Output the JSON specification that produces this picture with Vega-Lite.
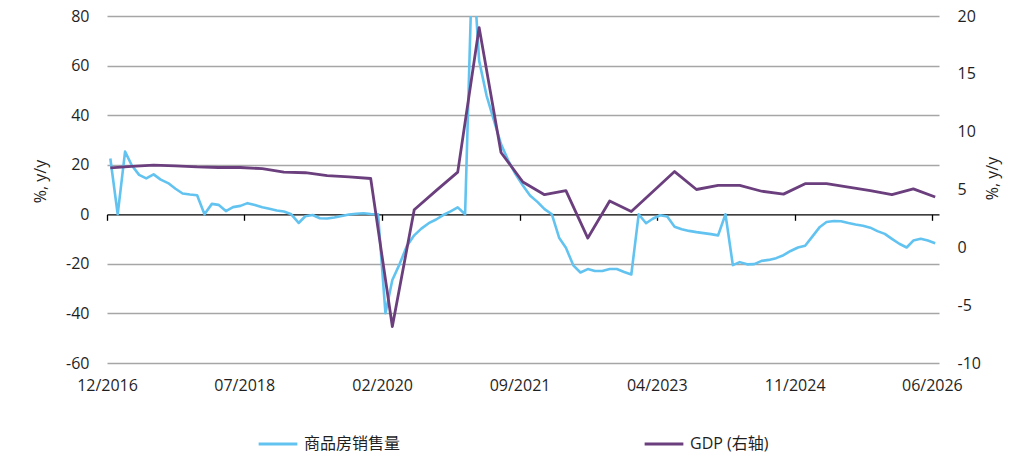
{
  "$schema": "https://vega.github.io/schema/vega-lite/v6.json",
  "width": 832,
  "height": 347,
  "autosize": {"type": "none"},
  "padding": {"left": 107, "top": 16, "right": 83, "bottom": 109},
  "background": "white",
  "config": {
    "view": {"stroke": null},
    "font": "Open Sans, Noto Sans CJK SC, sans-serif",
    "axis": {
      "labelFont": "Open Sans, Noto Sans CJK SC, sans-serif",
      "labelFontSize": 16,
      "labelColor": "#1f1f1f",
      "titleFont": "Open Sans, Noto Sans CJK SC, sans-serif",
      "titleFontSize": 16,
      "titleFontWeight": "normal",
      "titleColor": "#1f1f1f"
    },
    "legend": {
      "labelFont": "Open Sans, Noto Sans CJK SC, sans-serif",
      "labelFontSize": 16,
      "labelColor": "#1f1f1f"
    }
  },
  "datasets": {
    "sales": [
      {"date": "2016-12-15", "value": 22.5},
      {"date": "2017-01-15", "value": 0},
      {"date": "2017-02-15", "value": 25.3},
      {"date": "2017-03-15", "value": 19.8},
      {"date": "2017-04-15", "value": 15.9},
      {"date": "2017-05-15", "value": 14.5},
      {"date": "2017-06-15", "value": 16.1},
      {"date": "2017-07-15", "value": 14.0},
      {"date": "2017-08-15", "value": 12.6},
      {"date": "2017-09-15", "value": 10.3},
      {"date": "2017-10-15", "value": 8.4},
      {"date": "2017-11-15", "value": 8.0},
      {"date": "2017-12-15", "value": 7.7},
      {"date": "2018-01-15", "value": 0},
      {"date": "2018-02-15", "value": 4.2},
      {"date": "2018-03-15", "value": 3.8},
      {"date": "2018-04-15", "value": 1.3},
      {"date": "2018-05-15", "value": 2.9},
      {"date": "2018-06-15", "value": 3.4},
      {"date": "2018-07-15", "value": 4.5},
      {"date": "2018-08-15", "value": 3.7},
      {"date": "2018-09-15", "value": 2.8},
      {"date": "2018-10-15", "value": 2.2},
      {"date": "2018-11-15", "value": 1.5},
      {"date": "2018-12-15", "value": 1.1},
      {"date": "2019-01-15", "value": 0},
      {"date": "2019-02-15", "value": -3.5},
      {"date": "2019-03-15", "value": -0.8},
      {"date": "2019-04-15", "value": -0.3},
      {"date": "2019-05-15", "value": -1.6},
      {"date": "2019-06-15", "value": -1.7},
      {"date": "2019-07-15", "value": -1.3},
      {"date": "2019-08-15", "value": -0.7},
      {"date": "2019-09-15", "value": -0.1},
      {"date": "2019-10-15", "value": 0.2},
      {"date": "2019-11-15", "value": 0.4},
      {"date": "2019-12-15", "value": 0.1},
      {"date": "2020-01-15", "value": 0},
      {"date": "2020-02-15", "value": -39.9},
      {"date": "2020-03-15", "value": -26.5},
      {"date": "2020-04-15", "value": -20.0},
      {"date": "2020-05-15", "value": -12.8},
      {"date": "2020-06-15", "value": -8.5},
      {"date": "2020-07-15", "value": -5.8},
      {"date": "2020-08-15", "value": -3.6},
      {"date": "2020-09-15", "value": -2.1},
      {"date": "2020-10-15", "value": -0.3},
      {"date": "2020-11-15", "value": 1.2},
      {"date": "2020-12-15", "value": 2.8},
      {"date": "2021-01-15", "value": 0},
      {"date": "2021-02-15", "value": 105},
      {"date": "2021-03-15", "value": 62},
      {"date": "2021-04-15", "value": 48},
      {"date": "2021-05-15", "value": 38.3},
      {"date": "2021-06-15", "value": 28.3},
      {"date": "2021-07-15", "value": 21.8},
      {"date": "2021-08-15", "value": 16.2},
      {"date": "2021-09-15", "value": 11.6},
      {"date": "2021-10-15", "value": 7.6},
      {"date": "2021-11-15", "value": 5.0},
      {"date": "2021-12-15", "value": 2.1},
      {"date": "2022-01-15", "value": 0},
      {"date": "2022-02-15", "value": -9.6},
      {"date": "2022-03-15", "value": -13.5},
      {"date": "2022-04-15", "value": -20.6},
      {"date": "2022-05-15", "value": -23.5},
      {"date": "2022-06-15", "value": -22.1},
      {"date": "2022-07-15", "value": -22.9},
      {"date": "2022-08-15", "value": -22.9},
      {"date": "2022-09-15", "value": -22.1},
      {"date": "2022-10-15", "value": -22.1},
      {"date": "2022-11-15", "value": -23.3},
      {"date": "2022-12-15", "value": -24.3},
      {"date": "2023-01-15", "value": 0},
      {"date": "2023-02-15", "value": -3.6},
      {"date": "2023-03-15", "value": -1.8},
      {"date": "2023-04-15", "value": -0.4},
      {"date": "2023-05-15", "value": -0.9},
      {"date": "2023-06-15", "value": -5.0},
      {"date": "2023-07-15", "value": -6.0},
      {"date": "2023-08-15", "value": -6.7},
      {"date": "2023-09-15", "value": -7.2},
      {"date": "2023-10-15", "value": -7.6},
      {"date": "2023-11-15", "value": -8.0},
      {"date": "2023-12-15", "value": -8.5},
      {"date": "2024-01-15", "value": 0},
      {"date": "2024-02-15", "value": -20.5},
      {"date": "2024-03-15", "value": -19.3},
      {"date": "2024-04-15", "value": -20.2},
      {"date": "2024-05-15", "value": -20.1},
      {"date": "2024-06-15", "value": -18.8},
      {"date": "2024-07-15", "value": -18.4},
      {"date": "2024-08-15", "value": -17.7},
      {"date": "2024-09-15", "value": -16.5},
      {"date": "2024-10-15", "value": -14.8},
      {"date": "2024-11-15", "value": -13.4},
      {"date": "2024-12-15", "value": -12.7},
      {"date": "2025-01-15", "value": -8.9},
      {"date": "2025-02-15", "value": -5.1},
      {"date": "2025-03-15", "value": -3.1},
      {"date": "2025-04-15", "value": -2.7},
      {"date": "2025-05-15", "value": -2.8},
      {"date": "2025-06-15", "value": -3.5},
      {"date": "2025-07-15", "value": -4.1},
      {"date": "2025-08-15", "value": -4.6},
      {"date": "2025-09-15", "value": -5.4},
      {"date": "2025-10-15", "value": -6.8},
      {"date": "2025-11-15", "value": -7.9},
      {"date": "2025-12-15", "value": -9.9},
      {"date": "2026-01-15", "value": -11.9},
      {"date": "2026-02-15", "value": -13.4},
      {"date": "2026-03-15", "value": -10.6},
      {"date": "2026-04-15", "value": -9.9},
      {"date": "2026-05-15", "value": -10.6},
      {"date": "2026-06-15", "value": -11.7}
    ],
    "gdp": [
      {"date": "2016-12-15", "value": 6.87},
      {"date": "2017-03-15", "value": 7.0},
      {"date": "2017-06-15", "value": 7.1},
      {"date": "2017-09-15", "value": 7.05},
      {"date": "2017-12-15", "value": 6.95},
      {"date": "2018-03-15", "value": 6.9},
      {"date": "2018-06-15", "value": 6.9},
      {"date": "2018-09-15", "value": 6.8},
      {"date": "2018-12-15", "value": 6.5},
      {"date": "2019-03-15", "value": 6.45},
      {"date": "2019-06-15", "value": 6.2},
      {"date": "2019-09-15", "value": 6.1},
      {"date": "2019-12-15", "value": 5.95},
      {"date": "2020-03-15", "value": -6.85},
      {"date": "2020-06-15", "value": 3.25},
      {"date": "2020-09-15", "value": 4.9},
      {"date": "2020-12-15", "value": 6.5},
      {"date": "2021-03-15", "value": 19.0},
      {"date": "2021-06-15", "value": 8.2},
      {"date": "2021-09-15", "value": 5.65},
      {"date": "2021-12-15", "value": 4.55},
      {"date": "2022-03-15", "value": 4.9},
      {"date": "2022-06-15", "value": 0.8},
      {"date": "2022-09-15", "value": 4.0},
      {"date": "2022-12-15", "value": 3.1},
      {"date": "2023-03-15", "value": 4.8},
      {"date": "2023-06-15", "value": 6.55},
      {"date": "2023-09-15", "value": 5.0},
      {"date": "2023-12-15", "value": 5.35},
      {"date": "2024-03-15", "value": 5.35},
      {"date": "2024-06-15", "value": 4.85},
      {"date": "2024-09-15", "value": 4.6},
      {"date": "2024-12-15", "value": 5.5},
      {"date": "2025-03-15", "value": 5.5},
      {"date": "2025-06-15", "value": 5.2},
      {"date": "2025-09-15", "value": 4.9},
      {"date": "2025-12-15", "value": 4.55},
      {"date": "2026-03-15", "value": 5.05},
      {"date": "2026-06-15", "value": 4.35}
    ]
  },
  "layer": [
    {
      "data": {"name": "sales"},
      "mark": {"type": "line", "clip": true, "strokeWidth": 2.6, "strokeJoin": "round"},
      "encoding": {
        "x": {
          "field": "date",
          "type": "temporal",
          "scale": {
            "type": "utc",
            "domain": [
              {"year": 2016, "month": 12, "date": 1, "utc": true},
              {"year": 2026, "month": 7, "date": 1, "utc": true}
            ]
          },
          "axis": {
            "title": null,
            "orient": "bottom",
            "offset": -148.7,
            "values": [
              {"year": 2016, "month": 12, "date": 1, "utc": true},
              {"year": 2018, "month": 7, "date": 1, "utc": true},
              {"year": 2020, "month": 2, "date": 1, "utc": true},
              {"year": 2021, "month": 9, "date": 1, "utc": true},
              {"year": 2023, "month": 4, "date": 1, "utc": true},
              {"year": 2024, "month": 11, "date": 1, "utc": true},
              {"year": 2026, "month": 6, "date": 1, "utc": true}
            ],
            "format": "%m/%Y",
            "grid": false,
            "domain": true,
            "domainColor": "#000000",
            "domainWidth": 1.3,
            "ticks": true,
            "tickColor": "#000000",
            "tickWidth": 1.3,
            "tickSize": 6,
            "labelPadding": 157,
            "labelFlush": false,
            "labelOverlap": false
          }
        },
        "y": {
          "field": "value",
          "type": "quantitative",
          "scale": {"domain": [-60, 80], "nice": false, "zero": false},
          "axis": {
            "orient": "left",
            "values": [-60, -40, -20, 0, 20, 40, 60, 80],
            "labelExpr": "'' + datum.value",
            "domain": false,
            "ticks": false,
            "grid": true,
            "gridColor": {"condition": {"test": "datum.value === 0", "value": "transparent"}, "value": "#a6a6a6"},
            "gridWidth": 1.6,
            "labelPadding": 18,
            "title": "%, y/y",
            "titleAngle": 270,
            "titleAlign": "center",
            "titleBaseline": "middle",
            "titleX": -67,
            "titleY": 165
          }
        },
        "color": {
          "datum": "商品房销售量",
          "type": "nominal",
          "scale": {"domain": ["商品房销售量", "GDP (右轴)"], "range": ["#62c3f0", "#6b3f7d"]},
          "legend": {
            "title": null,
            "orient": "none",
            "direction": "horizontal",
            "legendX": 150,
            "legendY": 407,
            "symbolType": "stroke",
            "symbolSize": 1500,
            "symbolStrokeWidth": 3,
            "labelOffset": 5,
            "columnPadding": 237,
            "padding": 0
          }
        }
      }
    },
    {
      "data": {"name": "gdp"},
      "mark": {"type": "line", "clip": true, "strokeWidth": 2.8, "strokeJoin": "round"},
      "encoding": {
        "x": {"field": "date", "type": "temporal"},
        "y": {
          "field": "value",
          "type": "quantitative",
          "scale": {"domain": [-10, 20], "nice": false, "zero": false},
          "axis": {
            "orient": "right",
            "values": [-10, -5, 0, 5, 10, 15, 20],
            "labelExpr": "'' + datum.value",
            "domain": false,
            "ticks": false,
            "grid": false,
            "labelPadding": 18,
            "title": "%, y/y",
            "titleAngle": 270,
            "titleAlign": "center",
            "titleBaseline": "middle",
            "titleX": 53,
            "titleY": 162
          }
        },
        "color": {"datum": "GDP (右轴)", "type": "nominal"}
      }
    }
  ],
  "resolve": {"scale": {"y": "independent"}}
}
